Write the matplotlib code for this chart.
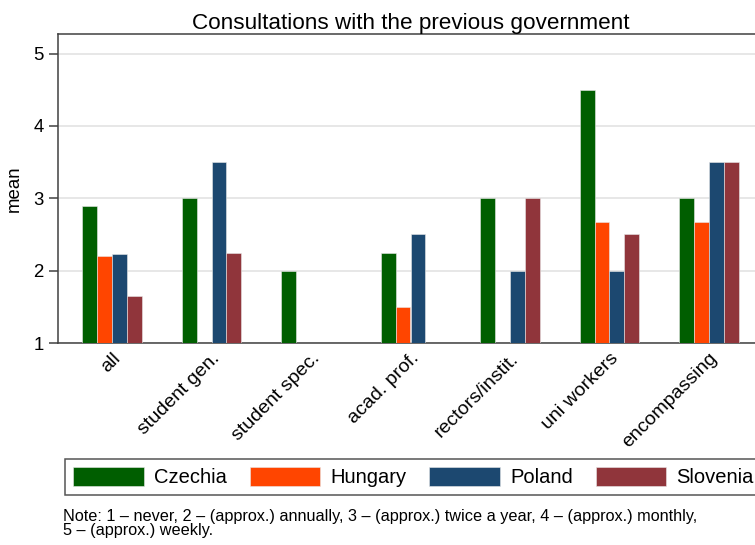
import numpy as np
import matplotlib
matplotlib.use("Agg")
import matplotlib.pyplot as plt

plt.rcParams['font.family'] = ['Liberation Sans', 'DejaVu Sans']

# mean consultation frequency by group and country (nan = no answers)
groups = ["all", "student gen.", "student spec.", "acad. prof.",
          "rectors/instit.", "uni workers", "encompassing"]
czechia = [2.9, 3.0, 2.0, 2.25, 3.0, 4.5, 3.0]
hungary = [2.2, np.nan, np.nan, 1.5, np.nan, 2.67, 2.67]
poland = [2.23, 3.5, np.nan, 2.5, 2.0, 2.0, 3.5]
slovenia = [1.65, 2.25, np.nan, np.nan, 3.0, 2.5, 3.5]

countries = ["Czechia", "Hungary", "Poland", "Slovenia"]
colors = ["#005e00", "#ff4500", "#1c4870", "#90353b"]

note1 = "Note: 1 \u2013 never, 2 \u2013 (approx.) annually, 3 \u2013 (approx.) twice a year, 4 \u2013 (approx.) monthly,"
note2 = "5 \u2013 (approx.) weekly."

W, H = 755, 545
fig = plt.figure(figsize=(W / 100, H / 100), dpi=100)
ax = fig.add_axes([58 / W, 1 - 343 / H, (763 - 58) / W, (343 - 34) / H])

x = np.arange(len(groups))
bw = 0.15
series = [czechia, hungary, poland, slovenia]
for i, (vals, name, col) in enumerate(zip(series, countries, colors)):
    vals = np.array(vals, dtype=float)
    ax.bar(x + (i - 1.5) * bw, vals - 1, bw, bottom=1, color=col,
           edgecolor="#e8e8e8", linewidth=0.4, label=name, zorder=3)

ax.set_xlim(-0.543, 6.543)
ax.set_ylim(1, 5.27)
ax.set_yticks([1, 2, 3, 4, 5])
ax.yaxis.grid(True, color="#e3e3e3", linewidth=1.2, zorder=0)
ax.set_axisbelow(True)

ax.set_xticks(x)
ax.set_xticklabels(groups, rotation=45, ha="right", va="top",
                   rotation_mode="anchor", fontsize=14)
ax.tick_params(axis="x", length=0, pad=5)
ax.tick_params(axis="y", length=6.5, width=1.1, color="#404040",
               labelsize=13.4, pad=4)

for side in ["left", "top", "bottom", "right"]:
    ax.spines[side].set_color("#404040")
    ax.spines[side].set_linewidth(1.1)

ax.set_ylabel("mean", fontsize=13.4)
ax.yaxis.set_label_coords((23 - 58) / (763 - 58), 0.5)
ax.set_title("Consultations with the previous government", fontsize=16.2, pad=3.5)

leg = ax.legend(loc="upper left", bbox_to_anchor=(65 / W, 1 - 459 / H),
                bbox_transform=fig.transFigure, ncol=4, fontsize=14.5,
                handlelength=3.5, handleheight=1.05, handletextpad=0.5,
                columnspacing=1.15, borderpad=0.4, borderaxespad=0,
                fancybox=False, framealpha=1)
leg.get_frame().set_edgecolor("#555555")
leg.get_frame().set_linewidth(1.1)

fig.text(63 / W, 1 - 520.7 / H, note1, fontsize=11.7, va="baseline")
fig.text(63 / W, 1 - 535 / H, note2, fontsize=11.7, va="baseline")

fig.savefig("out.png", dpi=100)
